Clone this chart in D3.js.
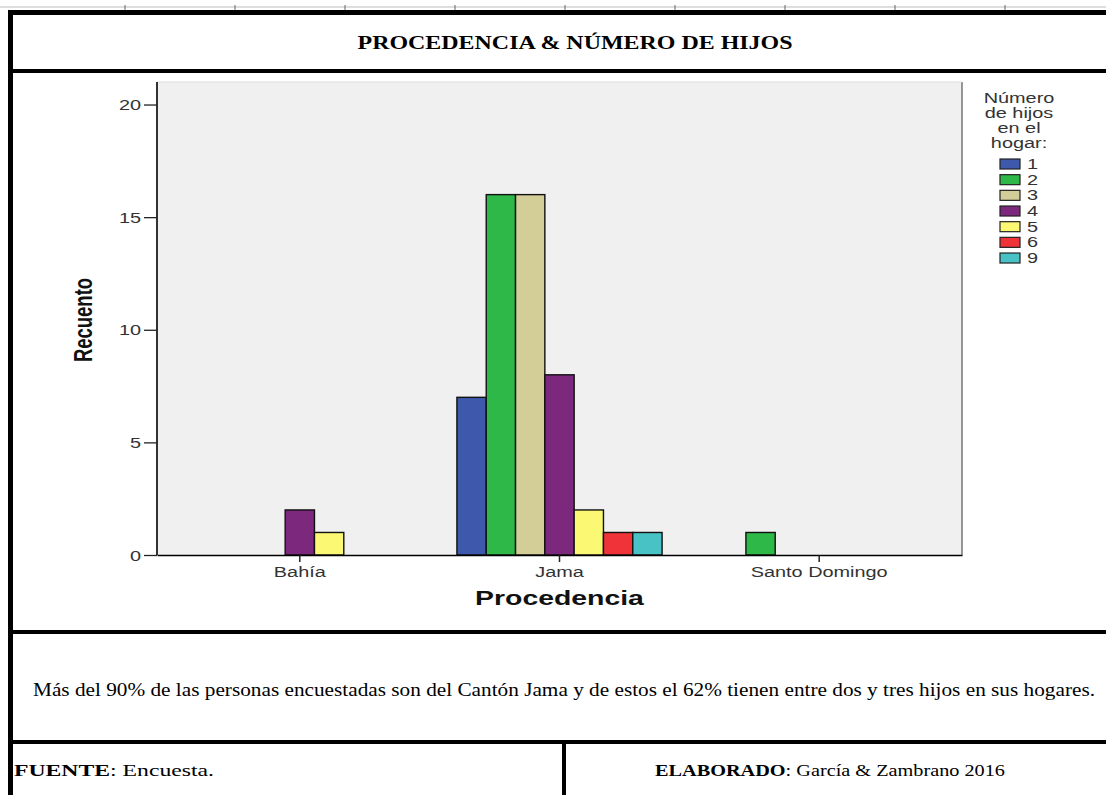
<!DOCTYPE html>
<html>
<head>
<meta charset="utf-8">
<title>Procedencia & Número de hijos</title>
<style>
body{ margin:0; background:#fff; }
svg{ display:block; }
.serif{ font-family:"Liberation Serif","Times New Roman",serif; fill:#000; }
.sans{ font-family:"Liberation Sans",Arial,sans-serif; }
</style>
<script src="https://d3js.org/d3.v7.min.js"></script>
</head>
<body>
<div id="chart"></div>
<script>
// data
var categories = ["Bahía", "Jama", "Santo Domingo"];
var hijos = ["1", "2", "3", "4", "5", "6", "9"];
var hijos1 = [0, 7, 0];
var hijos2 = [0, 16, 1];
var hijos3 = [0, 16, 0];
var hijos4 = [2, 8, 0];
var hijos5 = [1, 2, 0];
var hijos6 = [0, 1, 0];
var hijos9 = [0, 1, 0];
var yTicks = [0, 5, 10, 15, 20];
var colors = ["#3e58ac", "#2eb848", "#d3ce97", "#7c287d", "#fbf873", "#ef3338", "#48c2c5"];

var titulo = "PROCEDENCIA & NÚMERO DE HIJOS";
var nota = "Más del 90% de las personas encuestadas son del Cantón Jama y de estos el 62% tienen entre dos y tres hijos en sus hogares.";
var legendTitle = ["Número", "de hijos", "en el", "hogar:"];

var series = [hijos1, hijos2, hijos3, hijos4, hijos5, hijos6, hijos9];

var W = 1106, H = 795;
var SX = 1.42; // chart picture is stretched sideways

var svg = d3.select("#chart").append("svg")
	.attr("width", W)
	.attr("height", H);

// stretched text helper
function stext(parent, x, y, str, cls, size, anchor, weight){
	return parent.append("text")
		.attr("class", cls)
		.attr("transform", "translate(" + x + "," + y + ") scale(" + SX + ",1)")
		.attr("text-anchor", anchor || "start")
		.style("font-size", size + "px")
		.style("font-weight", weight || "normal")
		.text(str);
}

// text fitted to a width, like the squeezed Word text
function ftext(parent, x, y, size, len, anchor){
	return parent.append("text")
		.attr("class", "serif")
		.attr("x", x).attr("y", y)
		.attr("text-anchor", anchor || "start")
		.attr("textLength", len)
		.attr("lengthAdjust", "spacingAndGlyphs")
		.style("font-size", size + "px");
}

// ---- table frame ----
var frame = svg.append("g");
frame.append("line").attr("x1", 0).attr("x2", W).attr("y1", 7).attr("y2", 7)
	.attr("stroke", "#bbb").attr("stroke-width", 1);
frame.selectAll(".ruler").data(d3.range(9)).enter().append("line")
	.attr("x1", function(d){ return 125 + d * 110; })
	.attr("x2", function(d){ return 125 + d * 110; })
	.attr("y1", 5).attr("y2", 11)
	.attr("stroke", "#666").attr("stroke-width", 1);

var hl = [[12.5, 5], [71, 4], [632, 4], [742, 4]];
hl.forEach(function(h){
	frame.append("line").attr("x1", 8).attr("x2", W)
		.attr("y1", h[0]).attr("y2", h[0])
		.attr("stroke", "#000").attr("stroke-width", h[1]);
});
frame.append("line").attr("x1", 10.5).attr("x2", 10.5).attr("y1", 10).attr("y2", H)
	.attr("stroke", "#000").attr("stroke-width", 5);
frame.append("line").attr("x1", 564).attr("x2", 564).attr("y1", 742).attr("y2", H)
	.attr("stroke", "#000").attr("stroke-width", 4);

ftext(svg, 575, 49, 18, 435, "middle").style("font-weight", "bold").text(titulo);
ftext(svg, 564, 696, 18, 1062, "middle").text(nota);

var f = ftext(svg, 14, 776, 17, 200, "start");
f.append("tspan").style("font-weight", "bold").text("FUENTE");
f.append("tspan").text(": Encuesta.");

var e = ftext(svg, 830, 776, 17, 350, "middle");
e.append("tspan").style("font-weight", "bold").text("ELABORADO");
e.append("tspan").text(": García & Zambrano 2016");

// ---- chart ----
var plot = {left: 157, right: 962, top: 82, bottom: 555};

var x = d3.scaleBand()
	.domain(categories)
	.range([plot.left, plot.right])
	.paddingInner(0)
	.paddingOuter(0.05);

var xi = d3.scaleBand()
	.domain(hijos)
	.range([0, x.bandwidth()])
	.paddingInner(0)
	.paddingOuter(0.93);

var y = d3.scaleLinear()
	.domain([0, 21])
	.range([plot.bottom, plot.top]);

var color = d3.scaleOrdinal().domain(hijos).range(colors);

svg.append("rect")
	.attr("x", plot.left).attr("y", plot.top)
	.attr("width", plot.right - plot.left)
	.attr("height", plot.bottom - plot.top)
	.attr("fill", "#f0f0f0");
svg.append("line")
	.attr("x1", plot.right).attr("x2", plot.right)
	.attr("y1", plot.top).attr("y2", plot.bottom)
	.attr("stroke", "#555").attr("stroke-width", 1.2);
svg.append("line")
	.attr("x1", plot.left).attr("x2", plot.right)
	.attr("y1", plot.top).attr("y2", plot.top)
	.attr("stroke", "#ddd").attr("stroke-width", 1);

// bars
var rows = [];
categories.forEach(function(c, ci){
	hijos.forEach(function(h, hi){
		var v = series[hi][ci];
		if (v > 0) rows.push({cat: c, key: h, value: v});
	});
});

svg.append("g").selectAll("rect").data(rows).enter().append("rect")
	.attr("x", function(d){ return x(d.cat) + xi(d.key); })
	.attr("y", function(d){ return y(d.value); })
	.attr("width", xi.bandwidth())
	.attr("height", function(d){ return y(0) - y(d.value); })
	.attr("fill", function(d){ return color(d.key); })
	.attr("stroke", "#111")
	.attr("stroke-width", 1.4);

// y axis
var yAxis = svg.append("g")
	.attr("transform", "translate(" + plot.left + ",0)")
	.call(d3.axisLeft(y).tickValues(yTicks).tickSize(13).tickSizeOuter(0));
yAxis.select(".domain").attr("stroke", "#000").attr("stroke-width", 1.6)
	.attr("d", "M0," + plot.top + "V" + plot.bottom);
yAxis.selectAll(".tick line").attr("stroke", "#222").attr("stroke-width", 1.3);
yAxis.selectAll(".tick text")
	.attr("class", "sans")
	.attr("x", -16 / SX)
	.attr("dy", "0.36em")
	.attr("transform", "scale(" + SX + ",1)")
	.style("font-size", "14px")
	.attr("fill", "#333");

// x axis
var xAxis = svg.append("g")
	.attr("transform", "translate(0," + plot.bottom + ")")
	.call(d3.axisBottom(x).tickSize(7).tickSizeOuter(0));
xAxis.select(".domain").attr("stroke", "#000").attr("stroke-width", 1.6);
xAxis.selectAll(".tick line").attr("stroke", "#222").attr("stroke-width", 1.5);
xAxis.selectAll(".tick text")
	.attr("class", "sans")
	.attr("y", 22)
	.attr("dy", 0)
	.attr("transform", "scale(" + SX + ",1)")
	.style("font-size", "14px")
	.attr("fill", "#333");

// axis titles
stext(svg, (plot.left + plot.right) / 2, 605, "Procedencia", "sans", 20, "middle", "bold")
	.attr("fill", "#111");
svg.append("text")
	.attr("class", "sans")
	.attr("transform", "translate(92,320) rotate(-90) scale(1," + SX + ")")
	.attr("text-anchor", "middle")
	.style("font-size", "18.5px")
	.style("font-weight", "bold")
	.attr("fill", "#111")
	.text("Recuento");

// legend
var leg = svg.append("g");
legendTitle.forEach(function(t, i){
	stext(leg, 1019, 103 + i * 15, t, "sans", 14, "middle").attr("fill", "#333");
});
var li = leg.selectAll(".item").data(hijos).enter().append("g")
	.attr("transform", function(d, i){ return "translate(1000," + (164 + i * 15.67) + ")"; });
li.append("rect")
	.attr("x", 0).attr("y", -5)
	.attr("width", 20).attr("height", 10)
	.attr("fill", function(d){ return color(d); })
	.attr("stroke", "#222").attr("stroke-width", 1.2);
li.each(function(d){
	stext(d3.select(this), 27, 5, d, "sans", 14, "start").attr("fill", "#333");
});
</script>
</body>
</html>
